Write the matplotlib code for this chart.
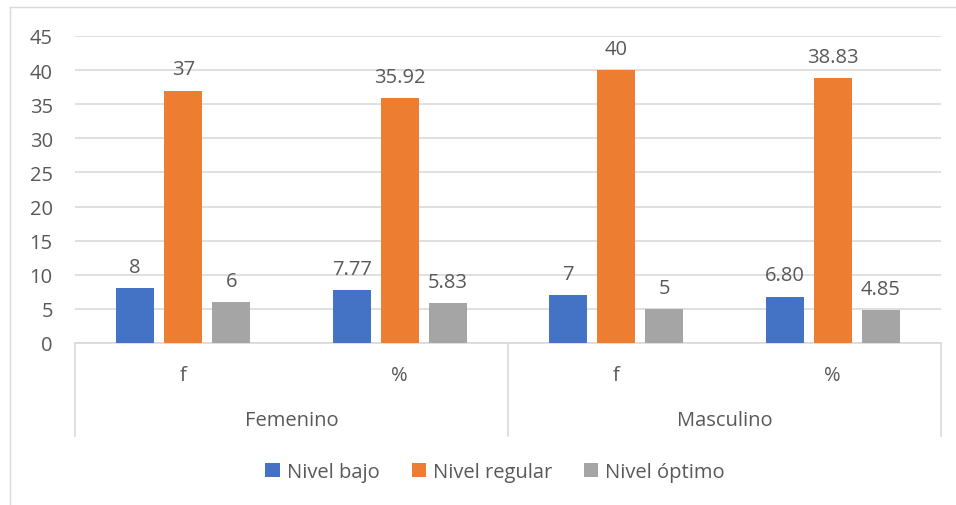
import numpy as np
import matplotlib
matplotlib.use('Agg')
import matplotlib.pyplot as plt
from matplotlib.lines import Line2D

plt.rcParams['font.family'] = ['Open Sans', 'DejaVu Sans']

# data
groups = ['Femenino', 'Masculino']
sub_cats = ['f', '%', 'f', '%']
series = ['Nivel bajo', 'Nivel regular', 'Nivel óptimo']
nivel_bajo = [8, 7.77, 7, 6.80]
nivel_regular = [37, 35.92, 40, 38.83]
nivel_optimo = [6, 5.83, 5, 4.85]
label_fmt = ['{:.0f}', '{:.2f}', '{:.0f}', '{:.2f}']

colors = ['#4472C4', '#ED7D31', '#A5A5A5']
txt = '#595959'
grid_c = '#d9d9d9'
fs = 14.5

W, H = 956, 506
fig = plt.figure(figsize=(W / 100, H / 100), dpi=100)

# outer chart border
fig.add_artist(Line2D([10 / W, 10 / W], [0, 1 - 8 / H], color=grid_c, lw=1))
fig.add_artist(Line2D([10 / W, 1], [1 - 8 / H, 1 - 8 / H], color=grid_c, lw=1))

left, right, top, zero = 75, 941, 37, 344
ax = fig.add_axes([left / W, 1 - zero / H, (right - left) / W, (zero - top) / H])

x = np.arange(len(sub_cats))
step = 0.222
width = 0.175
all_vals = [nivel_bajo, nivel_regular, nivel_optimo]
for k, vals in enumerate(all_vals):
    pos = x + (k - 1) * step
    ax.bar(pos, vals, width, color=colors[k], label=series[k], zorder=3)
    for i, v in enumerate(vals):
        ax.annotate(label_fmt[i].format(v), (pos[i], v), xytext=(0, 8),
                    textcoords='offset points', ha='center', va='bottom',
                    fontsize=fs, color=txt)

ax.set_xlim(-0.5, 3.5)
ax.set_ylim(0, 45)
ax.set_yticks(range(0, 46, 5))
ax.yaxis.grid(True, color=grid_c, lw=1.2, zorder=0)
ax.tick_params(axis='y', length=0, pad=16, labelsize=fs, labelcolor=txt)
ax.set_xticks([])
for s in ['top', 'right', 'left']:
    ax.spines[s].set_visible(False)
ax.spines['bottom'].set_color(grid_c)
ax.spines['bottom'].set_linewidth(1.2)

# multi-level category axis
tr = ax.get_xaxis_transform()
y_bot = (zero - 437) / (zero - top)
for xv in [-0.5, 1.5, 3.5]:
    ax.plot([xv, xv], [0, y_bot], color=grid_c, lw=1.2, transform=tr, clip_on=False)
for i, c in enumerate(sub_cats):
    ax.text(i, (zero - 376) / (zero - top), c, transform=tr, ha='center', va='center',
            fontsize=fs, color=txt)
for j, g in enumerate(groups):
    ax.text(2 * j + 0.5, (zero - 421) / (zero - top), g, transform=tr, ha='center',
            va='center', fontsize=fs, color=txt)

fig.legend(loc='center', bbox_to_anchor=(0.518, 1 - 473 / H), ncol=3, frameon=False,
           fontsize=fs, labelcolor=txt, handlelength=0.7, handleheight=0.7,
           handletextpad=0.35, columnspacing=1.6)

fig.savefig('out.png', dpi=100)
